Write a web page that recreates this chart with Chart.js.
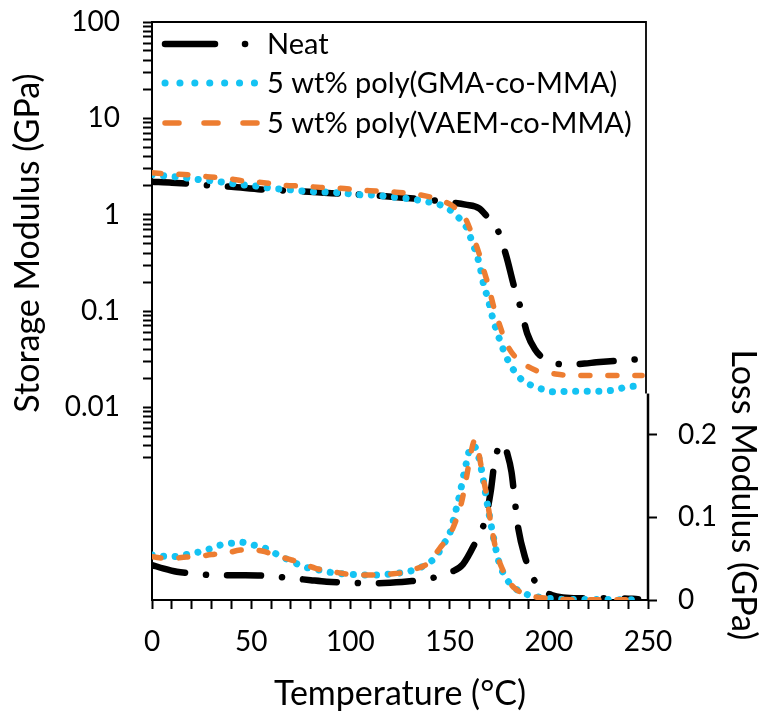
<!DOCTYPE html>
<html>
<head>
<meta charset="utf-8">
<script src="https://cdn.jsdelivr.net/npm/chart.js@4.4.1/dist/chart.umd.min.js"></script>
<style>
  html, body { margin: 0; padding: 0; background: #fff; }
  #c { display: block; }
</style>
</head>
<body>
<canvas id="c" width="761" height="715"></canvas>
<script>
// ---- Storage modulus (GPa), log axis ----
const neatStorageT = [0, 10, 20, 26, 40, 55, 70, 85, 100, 110, 125, 140, 150, 158, 165, 169, 174, 178.6, 182.3, 186, 189.1, 193, 196.9, 202, 210, 218, 224, 235, 245];
const neatStorage  = [2.20, 2.15, 2.08, 2.03, 1.95, 1.83, 1.77, 1.70, 1.63, 1.60, 1.51, 1.42, 1.35, 1.27, 1.16, 0.95, 0.71, 0.37, 0.186, 0.104, 0.0586, 0.040, 0.0327, 0.029, 0.0279, 0.0285, 0.0293, 0.0305, 0.0315];

const gmaStorageT = [0, 7.4, 15, 22.6, 29.9, 37.4, 44.5, 52, 59.7, 67.3, 74.5, 81.6, 89.2, 96.8, 104.4, 111.5, 118.8, 126.4, 134, 141, 148.3, 154.2, 158.8, 161.3, 164, 165.6, 167.2, 169.4, 171.1, 173.2, 175.6, 178.3, 181.7, 186.2, 191.3, 196.7, 202.3, 211.2, 224.2, 233, 240.2, 247];
const gmaStorage  = [2.60, 2.52, 2.44, 2.33, 2.25, 2.15, 2.05, 1.99, 1.88, 1.83, 1.77, 1.73, 1.71, 1.67, 1.61, 1.60, 1.54, 1.49, 1.42, 1.33, 1.19, 0.95, 0.72, 0.524, 0.366, 0.271, 0.186, 0.133, 0.0946, 0.067, 0.048, 0.0344, 0.0254, 0.0195, 0.0169, 0.0154, 0.0145, 0.0147, 0.0147, 0.0151, 0.0164, 0.0166];

const vaemStorageT = [0, 9, 18.4, 27.7, 37.8, 47, 56.3, 65.6, 75.7, 85, 95, 104.4, 113.7, 123, 133, 141.5, 146, 150.8, 154, 157.5, 161.8, 164.6, 167.7, 169, 172.7, 175.2, 178.6, 183.7, 189.6, 195.5, 201.4, 208.1, 215, 230, 247];
const vaemStorage  = [2.73, 2.64, 2.60, 2.48, 2.38, 2.22, 2.15, 2.02, 1.98, 1.92, 1.88, 1.80, 1.76, 1.71, 1.63, 1.50, 1.40, 1.26, 1.12, 0.95, 0.59, 0.41, 0.246, 0.201, 0.102, 0.0716, 0.0462, 0.0323, 0.0264, 0.0234, 0.0225, 0.0216, 0.0214, 0.0214, 0.0214];

// ---- Loss modulus (GPa), linear right axis ----
const neatLossT = [0, 6, 12.5, 20.6, 29, 47, 57, 68, 80, 88, 99, 110, 120, 131, 140, 145, 151, 156.7, 162, 168, 170.7, 172.7, 175, 177, 179, 181.2, 182.9, 184.6, 188, 192.2, 196, 201.4, 207, 215, 225, 237, 245];
const neatLoss  = [0.0424, 0.038, 0.0343, 0.0323, 0.0303, 0.0300, 0.0294, 0.027, 0.024, 0.0222, 0.021, 0.0202, 0.021, 0.023, 0.026, 0.029, 0.034, 0.0432, 0.065, 0.0977, 0.131, 0.1675, 0.186, 0.190, 0.178, 0.155, 0.120, 0.0868, 0.052, 0.0263, 0.013, 0.006, 0.003, 0.002, 0.002, 0.002, 0.001];

const gmaLossT = [0, 5, 10.8, 17, 24.3, 28.5, 31.9, 36.1, 41, 45.4, 47.9, 53, 57.2, 61.4, 66.5, 70.7, 76.6, 85.9, 90.9, 97.7, 107.5, 112.9, 123, 128.9, 134, 139, 143.2, 146.6, 150, 151.7, 155.4, 156.7, 158.4, 160.1, 162, 163.5, 165.6, 169.4, 172.2, 175, 179.1, 184.2, 190, 196.4, 205, 215, 230, 247];
const gmaLoss  = [0.0545, 0.053, 0.0525, 0.055, 0.0585, 0.0614, 0.0646, 0.0674, 0.069, 0.0699, 0.0685, 0.0654, 0.0626, 0.0573, 0.0512, 0.0464, 0.0403, 0.0355, 0.0331, 0.0315, 0.0303, 0.0303, 0.0323, 0.0343, 0.038, 0.0444, 0.0525, 0.0666, 0.080, 0.095, 0.131, 0.147, 0.1655, 0.1825, 0.187, 0.182, 0.1635, 0.111, 0.0747, 0.045, 0.0242, 0.0121, 0.006, 0.003, 0.001, 0.0005, 0.0005, 0.0002];

const vaemLossT = [0, 8, 17.5, 22.6, 30, 37, 44.5, 50, 55.5, 62.2, 68, 73.2, 82.5, 91, 103.6, 112, 120.4, 126, 130.6, 139, 145, 150, 153, 155.9, 158.4, 160.5, 162.6, 164.5, 166.8, 168.5, 170.3, 172, 173.6, 176.5, 180, 182.9, 189.6, 199.7, 208, 247];
const vaemLoss  = [0.0525, 0.050, 0.052, 0.0525, 0.055, 0.0565, 0.0605, 0.061, 0.0593, 0.0545, 0.050, 0.0464, 0.0384, 0.0343, 0.0303, 0.0303, 0.0315, 0.033, 0.0363, 0.0444, 0.0626, 0.0787, 0.095, 0.117, 0.147, 0.175, 0.193, 0.180, 0.149, 0.129, 0.100, 0.077, 0.058, 0.038, 0.022, 0.014, 0.006, 0.002, 0.0005, 0.0003];

// ---- Axis ticks and labels ----
const xTicks = [0, 10, 20, 30, 40, 50, 60, 70, 80, 90, 100, 110, 120, 130, 140, 150, 160, 170, 180, 190, 200, 210, 220, 230, 240, 250];
const xTickLabels = ['0', '50', '100', '150', '200', '250'];
const storageDecades = [0.01, 0.1, 1, 10, 100];
const storageDecadeLabels = ['0.01', '0.1', '1', '10', '100'];
const storageMinorTicks = [0.003, 0.004, 0.005, 0.006, 0.007, 0.008, 0.009,
  0.02, 0.03, 0.04, 0.05, 0.06, 0.07, 0.08, 0.09,
  0.2, 0.3, 0.4, 0.5, 0.6, 0.7, 0.8, 0.9,
  2, 3, 4, 5, 6, 7, 8, 9,
  20, 30, 40, 50, 60, 70, 80, 90];
const lossTicks = [0, 0.1, 0.2];
const lossTickLabels = ['0', '0.1', '0.2'];

const seriesNames = ['Neat', '5 wt% poly(GMA-co-MMA)', '5 wt% poly(VAEM-co-MMA)'];

const FONT = 'Lato, "Open Sans", sans-serif';
const BLACK = '#000000';
const CYAN = '#14C3F3';
const ORANGE = '#ED7D31';

const pairs = (xs, ys) => xs.map((x, i) => ({ x, y: ys[i] }));

const neatStyle = { borderColor: BLACK, borderWidth: 6.5, borderDash: [34, 21, 0.1, 21] };
const gmaStyle  = { borderColor: CYAN, borderWidth: 7, borderDash: [0.1, 11.5] };
const vaemStyle = { borderColor: ORANGE, borderWidth: 5.5, borderDash: [9, 18] };

const common = {
  pointRadius: 0, pointHoverRadius: 0, fill: false,
  cubicInterpolationMode: 'monotone', borderCapStyle: 'round', borderJoinStyle: 'round'
};

const datasets = [
  { label: seriesNames[2], data: pairs(vaemStorageT, vaemStorage), yAxisID: 'y', order: 1, ...common, ...vaemStyle },
  { label: seriesNames[2], data: pairs(vaemLossT, vaemLoss), yAxisID: 'y2', order: 1, ...common, ...vaemStyle },
  { label: seriesNames[1], data: pairs(gmaStorageT, gmaStorage), yAxisID: 'y', order: 2, ...common, ...gmaStyle },
  { label: seriesNames[1], data: pairs(gmaLossT, gmaLoss), yAxisID: 'y2', order: 2, ...common, ...gmaStyle },
  { label: seriesNames[0], data: pairs(neatStorageT, neatStorage), yAxisID: 'y', order: 3, ...common, ...neatStyle },
  { label: seriesNames[0], data: pairs(neatLossT, neatLoss), yAxisID: 'y2', order: 3, ...common, ...neatStyle }
];

const tickFont = { family: FONT, size: 28 };
const TITLE_SIZE = 34;
const axisGrid = { drawOnChartArea: false, drawTicks: true, tickLength: 9, tickWidth: 2, tickColor: BLACK };

// vertical axes keep their full height; no extra room for the end labels
const noEndPadding = s => { s.paddingTop = 0; s.paddingBottom = 0; };

// Frame, rotated axis titles and the legend box drawn on top of the plot
const decorations = {
  id: 'decorations',
  afterDraw(chart) {
    const { ctx, chartArea: a, scales } = chart;
    const lossTop = scales.y2.getPixelForValue(0.25);
    ctx.save();
    ctx.strokeStyle = BLACK;
    ctx.lineCap = 'butt';
    // top and right frame lines
    ctx.lineWidth = 1.8;
    ctx.beginPath();
    ctx.moveTo(a.left, a.top);
    ctx.lineTo(a.right - 2, a.top);
    ctx.lineTo(a.right - 2, lossTop);
    ctx.stroke();
    // loss-modulus axis line
    ctx.lineWidth = 2.5;
    ctx.beginPath();
    ctx.moveTo(a.right, lossTop);
    ctx.lineTo(a.right, a.bottom + 1);
    ctx.stroke();

    // axis titles
    ctx.fillStyle = BLACK;
    ctx.font = TITLE_SIZE + 'px ' + FONT;
    ctx.textAlign = 'center';
    ctx.textBaseline = 'alphabetic';
    ctx.save();
    ctx.translate(39, 243);
    ctx.rotate(-Math.PI / 2);
    ctx.fillText('Storage Modulus (GPa)', 0, 0);
    ctx.restore();
    ctx.save();
    ctx.translate(732, 495);
    ctx.rotate(Math.PI / 2);
    ctx.fillText('Loss Modulus (GPa)', 0, 0);
    ctx.restore();

    // legend
    const rowY = [a.top + 22, a.top + 61, a.top + 101];
    const x0 = a.left + 13;
    ctx.lineCap = 'round';
    // Neat: long dash + dot
    ctx.strokeStyle = BLACK; ctx.lineWidth = 6.5; ctx.setLineDash([]);
    ctx.beginPath(); ctx.moveTo(x0, rowY[0]); ctx.lineTo(x0 + 50, rowY[0]); ctx.stroke();
    ctx.beginPath(); ctx.moveTo(x0 + 80, rowY[0]); ctx.lineTo(x0 + 80.1, rowY[0]); ctx.stroke();
    // GMA: round dots
    ctx.strokeStyle = CYAN; ctx.lineWidth = 7; ctx.setLineDash([0.1, 14.8]);
    ctx.beginPath(); ctx.moveTo(x0, rowY[1]); ctx.lineTo(x0 + 90, rowY[1]); ctx.stroke();
    // VAEM: dashes
    ctx.strokeStyle = ORANGE; ctx.lineWidth = 5.5; ctx.setLineDash([14, 25]);
    ctx.beginPath(); ctx.moveTo(x0, rowY[2]); ctx.lineTo(x0 + 92, rowY[2]); ctx.stroke();
    ctx.setLineDash([]);
    ctx.fillStyle = BLACK;
    ctx.font = '29px ' + FONT;
    ctx.textAlign = 'left';
    ctx.textBaseline = 'middle';
    seriesNames.forEach((name, i) => ctx.fillText(name, a.left + 115, rowY[i] + 1));
    ctx.restore();
  }
};

new Chart(document.getElementById('c'), {
  type: 'line',
  data: { datasets },
  options: {
    responsive: false,
    animation: false,
    events: [],
    layout: { padding: { top: 22, left: 0, right: 0, bottom: 0 } },
    plugins: { legend: { display: false }, tooltip: { enabled: false } },
    scales: {
      x: {
        type: 'linear', min: 0, max: 250,
        afterBuildTicks: s => { s.ticks = xTicks.map(v => ({ value: v })); },
        afterFit: s => { s.height = 115; s.paddingLeft = 0; s.paddingRight = 0; },
        ticks: {
          autoSkip: false, maxRotation: 0, padding: 16, color: BLACK, font: tickFont,
          callback: v => (v % 50 === 0 ? xTickLabels[v / 50] : '')
        },
        grid: axisGrid,
        border: { display: true, color: BLACK, width: 2 },
        title: { display: true, text: 'Temperature (°C)', color: BLACK, font: { family: FONT, size: TITLE_SIZE }, padding: { top: 0, bottom: 1 } }
      },
      y: {
        type: 'logarithmic', position: 'left', min: 0.0001, max: 100,
        afterBuildTicks: s => {
          s.ticks = storageDecades.concat(storageMinorTicks).sort((p, q) => p - q).map(v => ({ value: v }));
        },
        afterFit: s => { s.width = 152; noEndPadding(s); },
        ticks: {
          autoSkip: false, padding: 23, color: BLACK, font: tickFont,
          callback: v => {
            const i = storageDecades.findIndex(d => Math.abs(Math.log10(d) - Math.log10(v)) < 1e-6);
            return i >= 0 ? storageDecadeLabels[i] : '';
          }
        },
        grid: axisGrid,
        border: { display: true, color: BLACK, width: 2 }
      },
      y2: {
        type: 'linear', position: 'right', min: 0, max: 0.7,
        afterBuildTicks: s => { s.ticks = lossTicks.map(v => ({ value: v })); },
        afterFit: s => { s.width = 113; noEndPadding(s); },
        ticks: {
          autoSkip: false, padding: 21, color: BLACK, font: tickFont,
          callback: v => { const i = lossTicks.findIndex(t => Math.abs(t - v) < 1e-9); return i >= 0 ? lossTickLabels[i] : ''; }
        },
        grid: axisGrid,
        border: { display: false }
      }
    }
  },
  plugins: [decorations]
});
</script>
</body>
</html>
